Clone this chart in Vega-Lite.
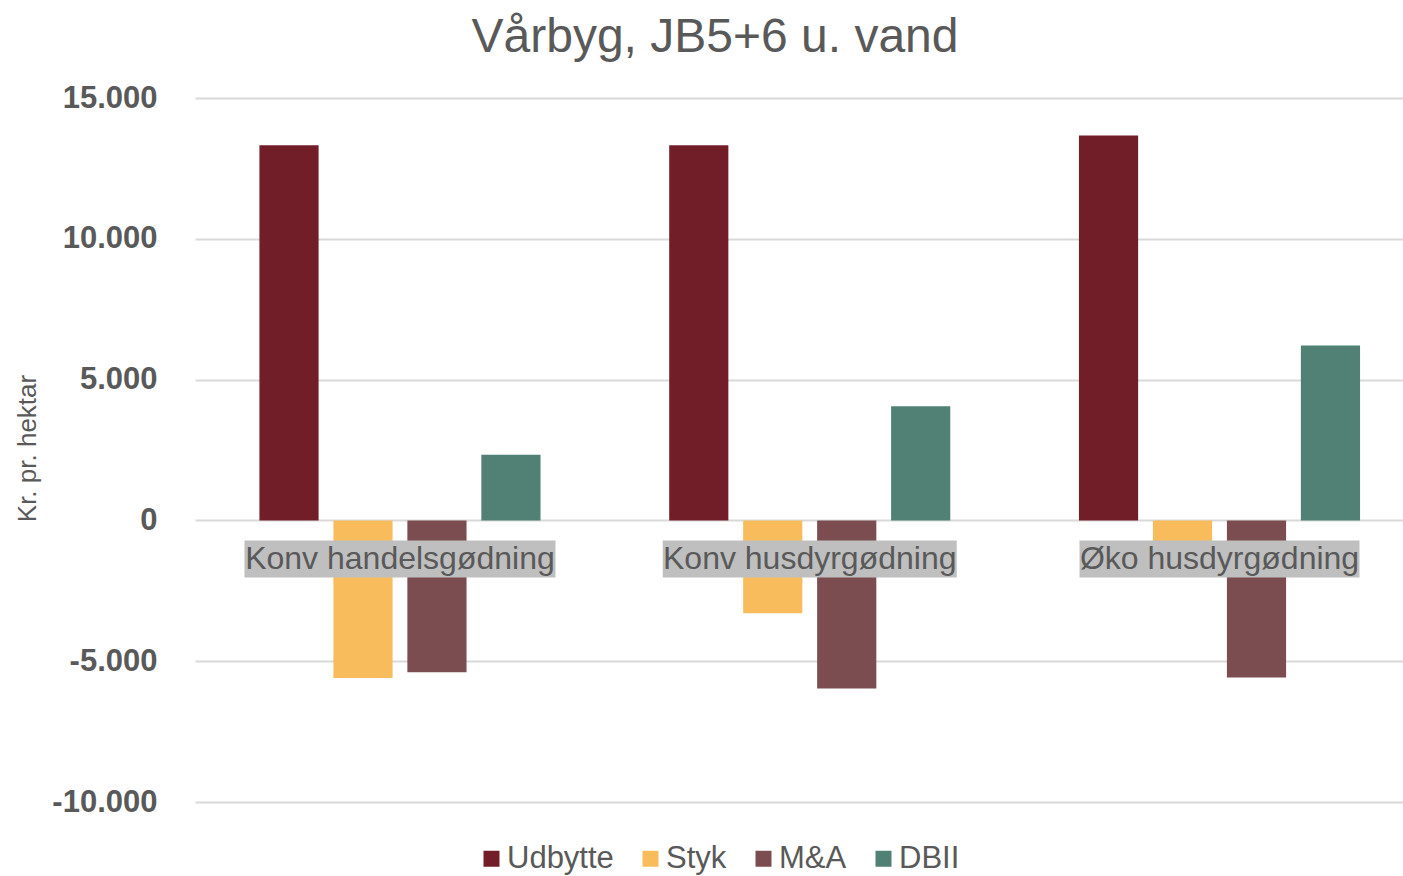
{
  "$schema": "https://vega.github.io/schema/vega-lite/v6.json",
  "width": 1208,
  "height": 704,
  "autosize": {"type": "none"},
  "padding": {"left": 195, "top": 98, "right": 0, "bottom": 74},
  "background": "white",
  "config": {
    "font": "Liberation Sans",
    "view": {"stroke": null}
  },
  "title": {
    "text": "Vårbyg, JB5+6 u. vand",
    "fontSize": 48,
    "fontWeight": "normal",
    "color": "#595959",
    "anchor": "middle",
    "frame": "group",
    "dx": -84,
    "offset": 20
  },
  "datasets": {
    "bars": [
      {"category": "Konv handelsgødning", "series": "Udbytte", "value": 13320},
      {"category": "Konv handelsgødning", "series": "Styk", "value": -5600},
      {"category": "Konv handelsgødning", "series": "M&A", "value": -5390},
      {"category": "Konv handelsgødning", "series": "DBII", "value": 2330},
      {"category": "Konv husdyrgødning", "series": "Udbytte", "value": 13320},
      {"category": "Konv husdyrgødning", "series": "Styk", "value": -3300},
      {"category": "Konv husdyrgødning", "series": "M&A", "value": -5970},
      {"category": "Konv husdyrgødning", "series": "DBII", "value": 4050},
      {"category": "Øko husdyrgødning", "series": "Udbytte", "value": 13670},
      {"category": "Øko husdyrgødning", "series": "Styk", "value": -1880},
      {"category": "Øko husdyrgødning", "series": "M&A", "value": -5575},
      {"category": "Øko husdyrgødning", "series": "DBII", "value": 6215}
    ],
    "labels": [
      {"category": "Konv handelsgødning"},
      {"category": "Konv husdyrgødning"},
      {"category": "Øko husdyrgødning"}
    ]
  },
  "layer": [
    {
      "data": {"name": "bars"},
      "mark": {"type": "bar"},
      "encoding": {
        "x": {
          "field": "category",
          "type": "nominal",
          "sort": ["Konv handelsgødning", "Konv husdyrgødning", "Øko husdyrgødning"],
          "scale": {"paddingInner": 0.314, "paddingOuter": 0.131, "align": 0.6},
          "axis": null
        },
        "xOffset": {
          "field": "series",
          "type": "nominal",
          "sort": ["Udbytte", "Styk", "M&A", "DBII"],
          "scale": {"paddingInner": 0.2, "paddingOuter": 0}
        },
        "y": {
          "field": "value",
          "type": "quantitative",
          "scale": {"domain": [-10000, 15000], "nice": false, "zero": false},
          "axis": {
            "title": "Kr. pr. hektar",
            "values": [-10000, -5000, 0, 5000, 10000, 15000],
            "labelExpr": "replace(replace(format(datum.value, ','), ',', '.'), '−', '-')",
            "labelFontSize": 31,
            "labelFontWeight": "bold",
            "labelColor": "#595959",
            "labelPadding": 38,
            "ticks": false,
            "domain": false,
            "grid": true,
            "gridColor": "#D9D9D9",
            "gridWidth": 2,
            "titleFontSize": 26,
            "titleFontWeight": "normal",
            "titleColor": "#595959",
            "titleAngle": -90,
            "titleX": -168,
            "titleY": 350,
            "titleAlign": "center",
            "titleBaseline": "middle"
          }
        },
        "color": {
          "field": "series",
          "type": "nominal",
          "sort": ["Udbytte", "Styk", "M&A", "DBII"],
          "scale": {
            "domain": ["Udbytte", "Styk", "M&A", "DBII"],
            "range": ["#721E28", "#F8BC5C", "#7B4C50", "#518175"]
          },
          "legend": {
            "title": null,
            "orient": "none",
            "direction": "horizontal",
            "legendX": 281,
            "legendY": 745,
            "padding": 0,
            "symbolType": "square",
            "symbolSize": 256,
            "symbolStrokeWidth": 0,
            "labelFontSize": 31,
            "labelColor": "#595959",
            "labelOffset": 0,
            "columnPadding": 21
          }
        }
      }
    },
    {
      "data": {"name": "labels"},
      "mark": {"type": "bar", "color": "#BFBFBF"},
      "encoding": {
        "x": {"field": "category", "type": "nominal", "sort": ["Konv handelsgødning", "Konv husdyrgødning", "Øko husdyrgødning"]},
        "y": {"datum": -710},
        "y2": {"datum": -2024},
        "size": {
          "field": "category",
          "type": "nominal",
          "scale": {
            "type": "ordinal",
            "domain": ["Konv handelsgødning", "Konv husdyrgødning", "Øko husdyrgødning"],
            "range": [311, 294, 280]
          },
          "legend": null
        }
      }
    },
    {
      "data": {"name": "labels"},
      "mark": {"type": "text", "fontSize": 32, "color": "#595959", "align": "center", "baseline": "middle"},
      "encoding": {
        "x": {"field": "category", "type": "nominal", "sort": ["Konv handelsgødning", "Konv husdyrgødning", "Øko husdyrgødning"]},
        "y": {"datum": -1360},
        "text": {"field": "category"}
      }
    }
  ]
}
